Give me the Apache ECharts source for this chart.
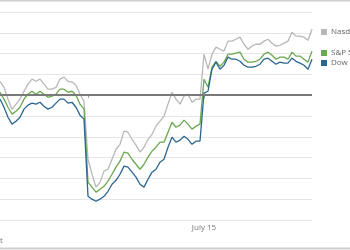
<!DOCTYPE html>
<html>
<head>
<meta charset="utf-8">
<script src="https://cdn.jsdelivr.net/npm/echarts@6/dist/echarts.min.js"></script>
<style>
html,body{margin:0;padding:0;background:#fff;}
#chart{width:350px;height:250px;}
</style>
</head>
<body>
<div id="chart"></div>
<script>
// Series names
const seriesNames = ['Nasdaq Composite', 'S&P 500', 'Dow industrials'];
// Tick labels keyed by category index
const tickLabels = {22: '', 51: 'July 15'};
const footLabel = 't';

const nasdaq = [
  0.67,0.38,-0.19,-0.67,-0.43,-0.19,0.19,0.53,0.77,0.67,0.77,0.53,0.29,0.29,0.38,0.77,0.87,0.67,0.63,0.48,0.05,-0.29,
  -3.08,-3.80,-4.42,-4.18,-3.65,-3.56,-3.08,-2.60,-2.36,-1.73,-1.78,-2.12,-2.40,-2.74,-2.50,-2.12,-1.88,-1.49,-1.25,-1.01,-0.43,0.14,-0.19,-0.43,-0.05,0.05,-0.34,-0.19,-0.19,
  1.97,1.25,1.97,2.31,2.21,2.12,2.60,2.60,2.69,2.79,2.45,2.21,2.36,2.45,2.45,2.60,2.69,2.50,2.36,2.40,2.50,2.60,3.03,2.84,2.84,2.79,2.64,3.17
];
const sp500 = [
  0.14,-0.19,-0.58,-0.91,-0.77,-0.58,-0.19,0.05,0.19,0.05,0.19,0.05,-0.10,-0.05,0.05,0.29,0.29,0.14,0.19,0.00,-0.43,-0.67,
  -4.18,-4.42,-4.66,-4.52,-4.38,-4.13,-3.80,-3.46,-3.17,-2.74,-2.79,-3.08,-3.32,-3.56,-3.32,-2.98,-2.69,-2.50,-2.26,-2.26,-1.78,-1.30,-1.54,-1.44,-1.20,-1.39,-1.63,-1.49,-1.39,
  0.77,0.38,1.35,1.63,1.39,1.59,1.97,1.97,2.02,2.07,1.73,1.59,1.59,1.63,1.73,1.97,2.07,1.92,1.73,1.83,1.83,1.73,2.07,1.88,1.88,1.73,1.59,2.12
];
const dow = [
  -0.19,-0.58,-1.06,-1.39,-1.25,-1.06,-0.67,-0.48,-0.38,-0.43,-0.34,-0.53,-0.67,-0.58,-0.38,-0.19,-0.19,-0.38,-0.34,-0.58,-0.96,-1.15,
  -4.86,-5.00,-5.10,-5.00,-4.86,-4.62,-4.28,-4.09,-3.80,-3.41,-3.46,-3.70,-3.94,-4.28,-4.42,-4.04,-3.70,-3.56,-3.22,-3.08,-2.50,-2.02,-2.26,-2.16,-1.97,-2.12,-2.36,-2.21,-2.21,
  0.10,0.19,1.25,1.59,1.25,1.44,1.83,1.73,1.73,1.63,1.44,1.35,1.35,1.39,1.49,1.73,1.78,1.63,1.49,1.59,1.54,1.54,1.78,1.63,1.54,1.44,1.25,1.73
];

const categories = nasdaq.map((_, i) => String(i));
const colors = ['#b8b8b8', '#6aa84f', '#2b6690'];
const dataSets = [nasdaq, sp500, dow];

const chart = echarts.init(document.getElementById('chart'), null, {renderer: 'canvas'});

const legendTops = [23, 44, 54];
const legends = seriesNames.map((n, i) => ({
  data: [n], orient: 'vertical', left: 316, top: legendTops[i],
  icon: 'rect', itemWidth: 6, itemHeight: 6, itemGap: 4,
  textStyle: {fontSize: 8, color: '#666', fontFamily: 'Open Sans', padding: [0, 0, 0, -1]},
  selectedMode: false
}));

chart.setOption({
  animation: false,
  color: colors,
  grid: {left: 0, right: 38, top: 12, bottom: 30, containLabel: false},
  legend: legends,
  xAxis: {
    type: 'category', data: categories, boundaryGap: false,
    axisLine: {show: true, lineStyle: {color: '#e2e2e2', width: 1}},
    axisTick: {show: true, length: 3, lineStyle: {color: '#aaa'},
      interval: (i) => tickLabels.hasOwnProperty(i)},
    axisLabel: {show: true, fontSize: 8, color: '#777', fontFamily: 'Open Sans', margin: 4,
      interval: (i) => tickLabels.hasOwnProperty(i),
      formatter: (v, i) => tickLabels[i] || ''},
    splitLine: {show: false}
  },
  yAxis: {
    type: 'value', min: -6, max: 4, interval: 1,
    axisLabel: {show: false}, axisLine: {show: false}, axisTick: {show: false},
    splitLine: {show: true, lineStyle: {color: '#e6e6e6', width: 1}}
  },
  graphic: [
    {type: 'line', shape: {x1: 0, y1: 0.5, x2: 350, y2: 0.5}, style: {stroke: '#cfcfcf', lineWidth: 2}},
    {type: 'line', shape: {x1: 0, y1: 248.5, x2: 350, y2: 248.5}, style: {stroke: '#cfcfcf', lineWidth: 2}},
    {type: 'text', left: 0, top: 237, style: {text: footLabel, fontSize: 8, fill: '#777', fontFamily: 'Open Sans'}}
  ],
  series: dataSets.map((d, i) => ({
    name: seriesNames[i], type: 'line', data: d, showSymbol: false, symbol: 'none',
    lineStyle: {width: 1.3, color: colors[i]}, itemStyle: {color: colors[i]},
    z: 2 + i,
    markLine: i === 0 ? {
      silent: true, symbol: 'none', label: {show: false},
      lineStyle: {color: '#7a7a7a', width: 2, type: 'solid'},
      data: [{yAxis: 0}]
    } : undefined
  }))
});
</script>
</body>
</html>
